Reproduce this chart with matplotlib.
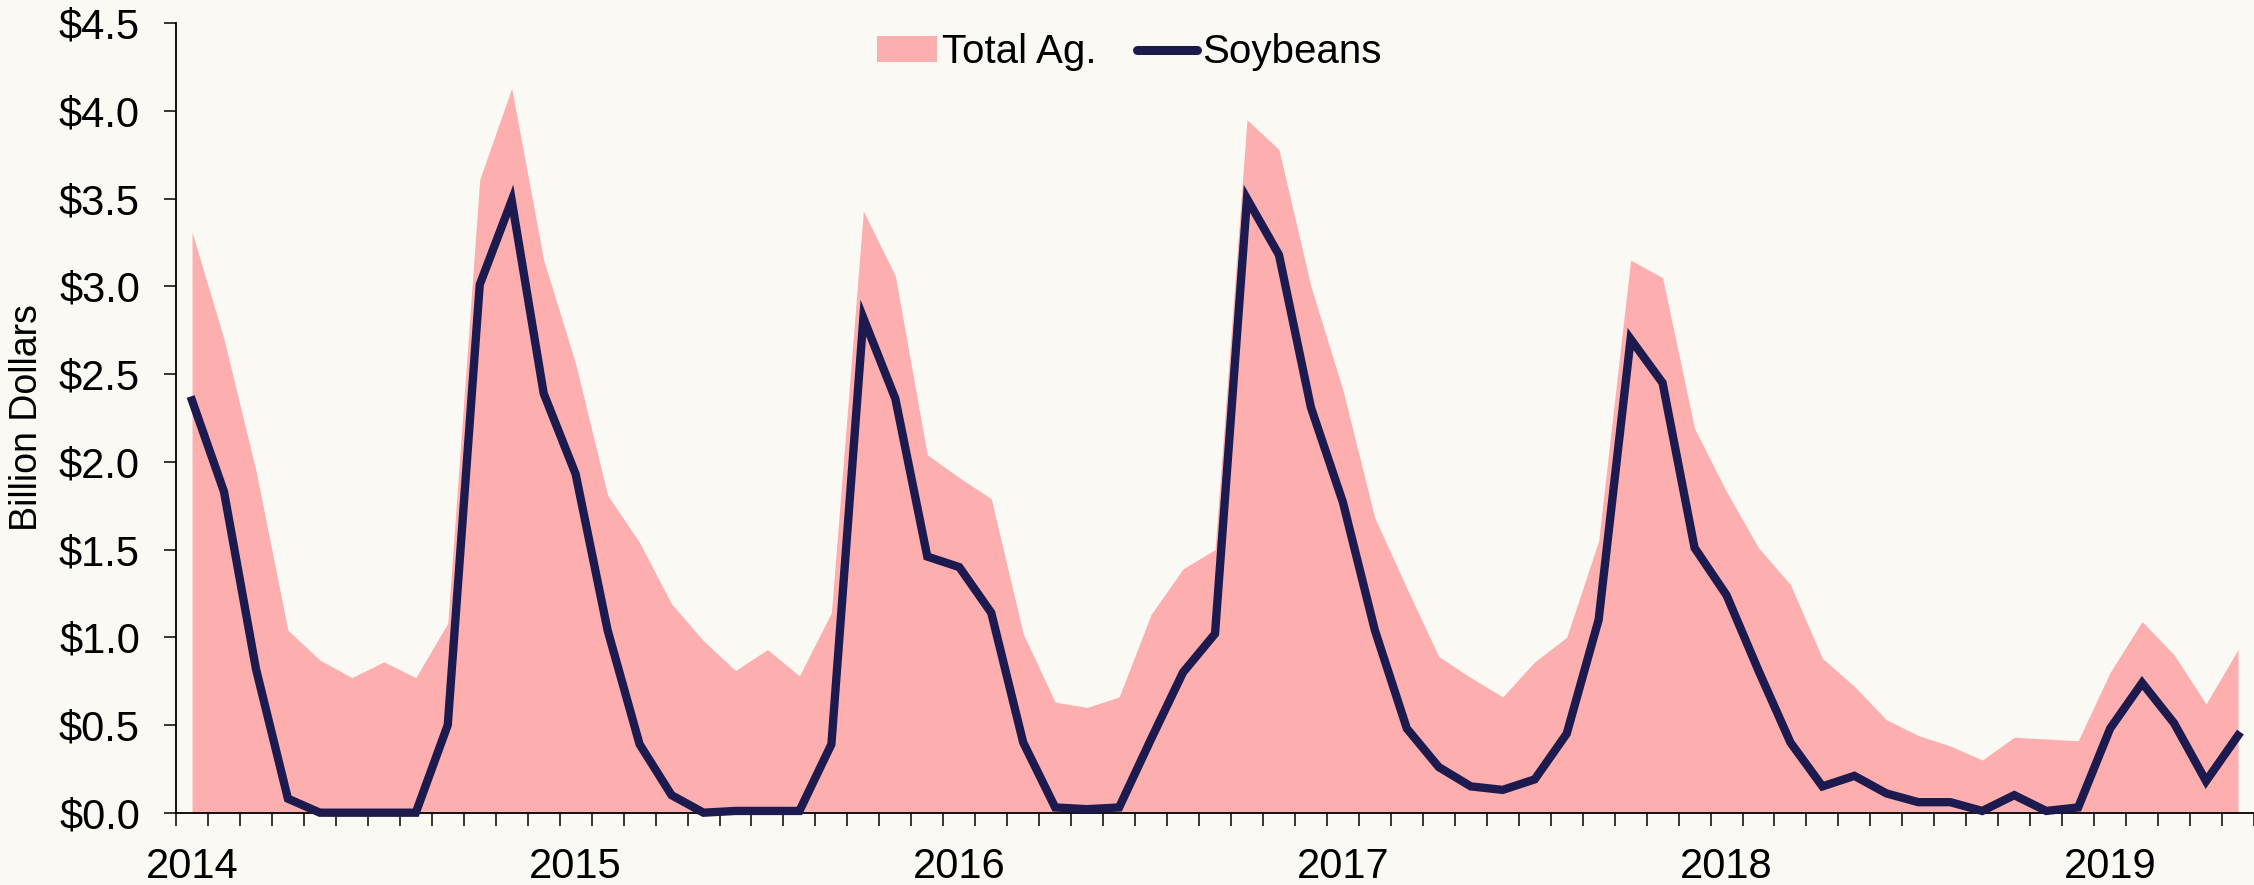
import numpy as np
import pandas as pd
import matplotlib
matplotlib.use("Agg")
import matplotlib.pyplot as plt
from matplotlib.patches import Patch
from matplotlib.lines import Line2D

plt.rcParams["font.family"] = ["Liberation Sans", "DejaVu Sans"]

# Monthly export values, billion dollars (Jan 2014 - May 2019)
months = pd.date_range("2014-01-01", periods=65, freq="MS")

total_ag = [3.31, 2.70, 1.95, 1.04, 0.87, 0.77, 0.86, 0.77, 1.08, 3.61, 4.13, 3.15,
            2.56, 1.81, 1.54, 1.19, 0.98, 0.81, 0.93, 0.78, 1.14, 3.43, 3.06, 2.04,
            1.91, 1.79, 1.02, 0.63, 0.60, 0.66, 1.13, 1.39, 1.50, 3.95, 3.78, 3.00,
            2.41, 1.68, 1.28, 0.89, 0.77, 0.66, 0.86, 1.00, 1.55, 3.15, 3.05, 2.19,
            1.83, 1.51, 1.30, 0.88, 0.72, 0.53, 0.44, 0.38, 0.30, 0.43, 0.42, 0.41,
            0.80, 1.09, 0.90, 0.62, 0.93]

soybeans = [2.35, 1.83, 0.82, 0.08, 0.00, 0.00, 0.00, 0.00, 0.50, 3.01, 3.49, 2.39,
            1.93, 1.04, 0.39, 0.10, 0.00, 0.01, 0.01, 0.01, 0.39, 2.82, 2.36, 1.46,
            1.40, 1.14, 0.40, 0.03, 0.02, 0.03, 0.42, 0.80, 1.02, 3.50, 3.18, 2.31,
            1.77, 1.04, 0.48, 0.26, 0.15, 0.13, 0.19, 0.45, 1.10, 2.70, 2.45, 1.51,
            1.24, 0.81, 0.40, 0.15, 0.21, 0.11, 0.06, 0.06, 0.01, 0.10, 0.01, 0.03,
            0.48, 0.74, 0.51, 0.18, 0.44]

y_ticks = [0.0, 0.5, 1.0, 1.5, 2.0, 2.5, 3.0, 3.5, 4.0, 4.5]

bg = "#faf9f4"
fill_color = "#fcafae"
line_color = "#1c1a4e"

x = np.arange(len(months))

fig = plt.figure(figsize=(22.54, 8.85), dpi=100, facecolor=bg)
ax = fig.add_axes([0.0781, 0.0817, 0.9219, 0.892])
ax.set_facecolor(bg)

ax.fill_between(x, 0, total_ag, color=fill_color, linewidth=0)
ax.plot(x, soybeans, color=line_color, linewidth=6, solid_joinstyle="miter",
        clip_on=False, zorder=3)

ax.set_xlim(-0.5, len(months) - 0.5)
ax.set_ylim(0, 4.5)

# month ticks at boundaries, year labels centred on January
ax.set_xticks(np.arange(-0.5, len(months), 1.0))
ax.set_xticklabels([])
jan = [i for i, m in enumerate(months) if m.month == 1]
ax.set_xticks(jan, minor=True)
ax.set_xticklabels([str(months[i].year) for i in jan], minor=True)
ax.tick_params(axis="x", which="major", direction="out", length=9, width=1.1)
ax.tick_params(axis="x", which="minor", length=0, pad=25, labelsize=30)

ax.set_yticks(y_ticks)
ax.set_yticklabels([f"${v:.1f}" for v in y_ticks])
ax.tick_params(axis="y", direction="out", length=9, width=1.1, pad=17, labelsize=30)

ax.set_ylabel("Billion Dollars", fontsize=27)
ax.yaxis.set_label_coords(-0.063, 0.5)

for s in ["top", "right"]:
    ax.spines[s].set_visible(False)
for s in ["left", "bottom"]:
    ax.spines[s].set_linewidth(1.3)

handles = [Patch(facecolor=fill_color, edgecolor="none", label="Total Ag."),
           Line2D([0], [0], color=line_color, lw=6.5, solid_capstyle="round",
                  label="Soybeans")]
fig.legend(handles=handles, loc="center", bbox_to_anchor=(0.501, 0.941), ncol=2,
           frameon=False, fontsize=29, handlelength=1.5, handleheight=0.6,
           handletextpad=0.12, columnspacing=1.0)

fig.savefig("out.png", dpi=100, facecolor=bg)
